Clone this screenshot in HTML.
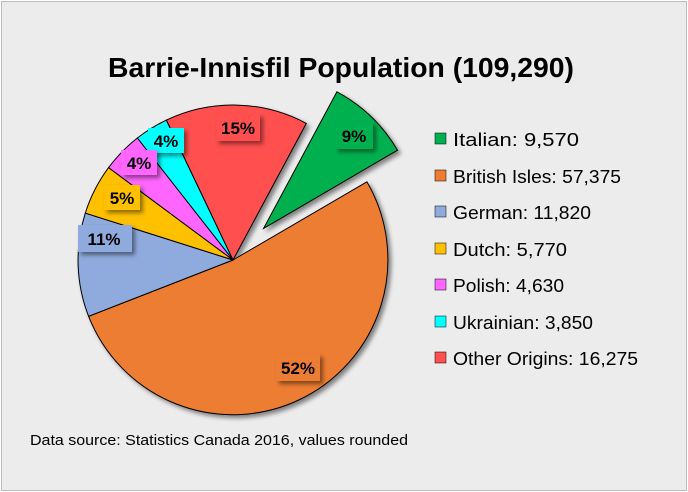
<!DOCTYPE html>
<html><head><meta charset="utf-8"><style>
body{margin:0;background:#fff;}
svg{display:block;font-family:"Liberation Sans",sans-serif;}
</style></head><body>
<svg width="688" height="492" viewBox="0 0 688 492" xmlns="http://www.w3.org/2000/svg">
<defs><filter id="sh" x="-30%" y="-30%" width="160%" height="160%"><feDropShadow dx="3" dy="3" stdDeviation="2" flood-color="#000" flood-opacity="0.45"/></filter></defs>
<rect x="1.5" y="1.5" width="685" height="489" fill="#ececec" stroke="#bdbdbd"/>
<text x="341" y="77" text-anchor="middle" font-size="28" font-weight="bold" fill="#000" textLength="466" lengthAdjust="spacingAndGlyphs">Barrie-Innisfil Population (109,290)</text>
<g stroke="#000" stroke-width="1" filter="url(#sh)">
<path d="M263.6,228.4 L336.9,91.8 A155,155 0 0 1 397.5,150.2 Z" fill="#00b050"/>
<path d="M233,260 L366.9,181.8 A155,155 0 1 1 88.6,316.3 Z" fill="#ed7d31"/>
<path d="M233,260 L88.6,316.3 A155,155 0 0 1 85.3,213.1 Z" fill="#8faadc"/>
<path d="M233,260 L85.3,213.1 A155,155 0 0 1 108.6,167.6 Z" fill="#ffc000"/>
<path d="M233,260 L108.6,167.6 A155,155 0 0 1 137.4,138.0 Z" fill="#ff66ff"/>
<path d="M233,260 L137.4,138.0 A155,155 0 0 1 166.4,120.1 Z" fill="#00ffff"/>
<path d="M233,260 L166.4,120.1 A155,155 0 0 1 306.3,123.4 Z" fill="#ff5050"/>
</g>
<g font-size="17" font-weight="bold" fill="#000" text-anchor="middle">
<rect x="335" y="122" width="38" height="27" fill="#00b050" filter="url(#sh)"/><text x="354" y="142">9%</text>
<rect x="276" y="354" width="44" height="27" fill="#ed7d31" filter="url(#sh)"/><text x="298" y="374">52%</text>
<rect x="216" y="114" width="44" height="27" fill="#ff5050" filter="url(#sh)"/><text x="238" y="134">15%</text>
<rect x="148" y="128" width="36" height="25" fill="#00ffff" filter="url(#sh)"/><text x="166" y="147">4%</text>
<rect x="121" y="150" width="36" height="25" fill="#ff66ff" filter="url(#sh)"/><text x="139" y="169">4%</text>
<rect x="104" y="185" width="36" height="25" fill="#ffc000" filter="url(#sh)"/><text x="122" y="204">5%</text>
<rect x="78" y="225" width="54" height="27" fill="#8faadc" filter="url(#sh)"/><text x="104" y="245">11%</text>
</g>
<g font-size="18" fill="#000">
<rect x="435" y="133" width="11" height="11" fill="#00b050" stroke="#000" stroke-width="0.5"/><text x="453" y="146" textLength="126" lengthAdjust="spacingAndGlyphs">Italian: 9,570</text>
<rect x="435" y="170" width="11" height="11" fill="#ed7d31" stroke="#000" stroke-width="0.5"/><text x="453" y="183" textLength="168" lengthAdjust="spacingAndGlyphs">British Isles: 57,375</text>
<rect x="435" y="206" width="11" height="11" fill="#8faadc" stroke="#000" stroke-width="0.5"/><text x="453" y="219" textLength="138" lengthAdjust="spacingAndGlyphs">German: 11,820</text>
<rect x="435" y="243" width="11" height="11" fill="#ffc000" stroke="#000" stroke-width="0.5"/><text x="453" y="256" textLength="114" lengthAdjust="spacingAndGlyphs">Dutch: 5,770</text>
<rect x="435" y="279" width="11" height="11" fill="#ff66ff" stroke="#000" stroke-width="0.5"/><text x="453" y="292" textLength="111" lengthAdjust="spacingAndGlyphs">Polish: 4,630</text>
<rect x="435" y="316" width="11" height="11" fill="#00ffff" stroke="#000" stroke-width="0.5"/><text x="453" y="329" textLength="140" lengthAdjust="spacingAndGlyphs">Ukrainian: 3,850</text>
<rect x="435" y="352" width="11" height="11" fill="#ff5050" stroke="#000" stroke-width="0.5"/><text x="453" y="365" textLength="185" lengthAdjust="spacingAndGlyphs">Other Origins: 16,275</text>
</g>
<text x="30" y="445" font-size="15" fill="#000" textLength="378" lengthAdjust="spacingAndGlyphs">Data source: Statistics Canada 2016, values rounded</text>
</svg>
</body></html>
